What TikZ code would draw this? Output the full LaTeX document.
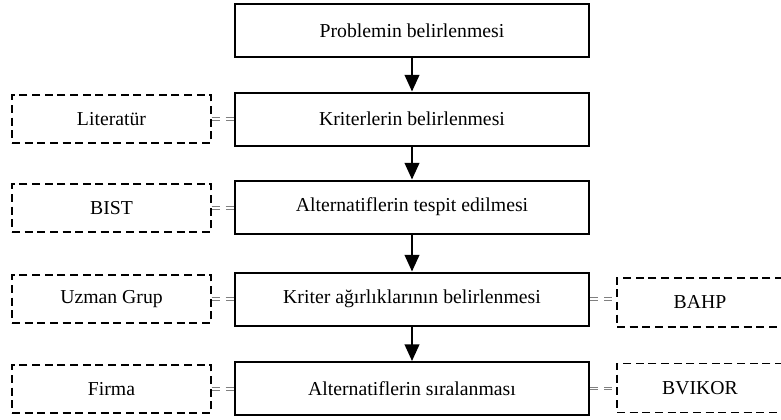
\documentclass[tikz,border=0pt]{standalone}
\usepackage{fontspec}
\setmainfont{Liberation Serif}
\usetikzlibrary{arrows.meta}
\begin{document}
\begin{tikzpicture}[x=0.75pt,y=-0.75pt,
  mainbox/.style={draw=black,line width=1.5pt,minimum width=265.5pt,minimum height=39.75pt,inner sep=0pt,font=\fontsize{14.8}{16}\selectfont},
  sidebox/.style={draw=black,line width=1.1pt,dash pattern=on 6pt off 3.5pt,minimum width=149.25pt,minimum height=36pt,inner sep=0pt,font=\fontsize{14.8}{16}\selectfont},
  rightbox/.style={sidebox,minimum width=124.5pt,minimum height=37pt},
  flow/.style={line width=1.5pt,-{Triangle[length=12.5pt,width=11pt]}},
  conn/.style={draw=gray,line width=0.8pt,double=white,double distance=1pt,dash pattern=on 6pt off 4.5pt}
]
\useasboundingbox (0,0) rectangle (781,419);
\clip (0,0) rectangle (781,419);
\node[mainbox] (k1) at (412,30.5) {Problemin belirlenmesi};
\node[mainbox] (k2) at (412,119) {Kriterlerin belirlenmesi};
\node[mainbox] (k3) at (412,207) {Alternatiflerin tespit edilmesi};
\node[mainbox] (k4) at (412,299) {Kriter ağırlıklarının belirlenmesi};
\node[mainbox] (k5) at (412,388.5) {Alternatiflerin sıralanması};
\node[sidebox] (l2) at (111.5,119) {Literatür};
\node[sidebox] (l3) at (111.5,208) {BIST};
\node[sidebox] (l4) at (111.5,299) {Uzman Grup};
\node[sidebox] (l5) at (111.5,389) {Firma};
\node[rightbox] (r4) at (700,302.5) {BAHP};
\node[rightbox] (r5) at (700,388) {BVIKOR};
\draw[flow] (k1) -- (k2);
\draw[flow] (k2) -- (k3);
\draw[flow] (k3) -- (k4);
\draw[flow] (k4) -- (k5);
\draw[conn] (l2.east) -- (l2.east -| k2.west);
\draw[conn] (l3.east) -- (l3.east -| k3.west);
\draw[conn] (l4.east) -- (l4.east -| k4.west);
\draw[conn] (l5.east) -- (l5.east -| k5.west);
\draw[conn] (k4.east) -- (k4.east -| r4.west);
\draw[conn] (k5.east) -- (k5.east -| r5.west);
\end{tikzpicture}
\end{document}
